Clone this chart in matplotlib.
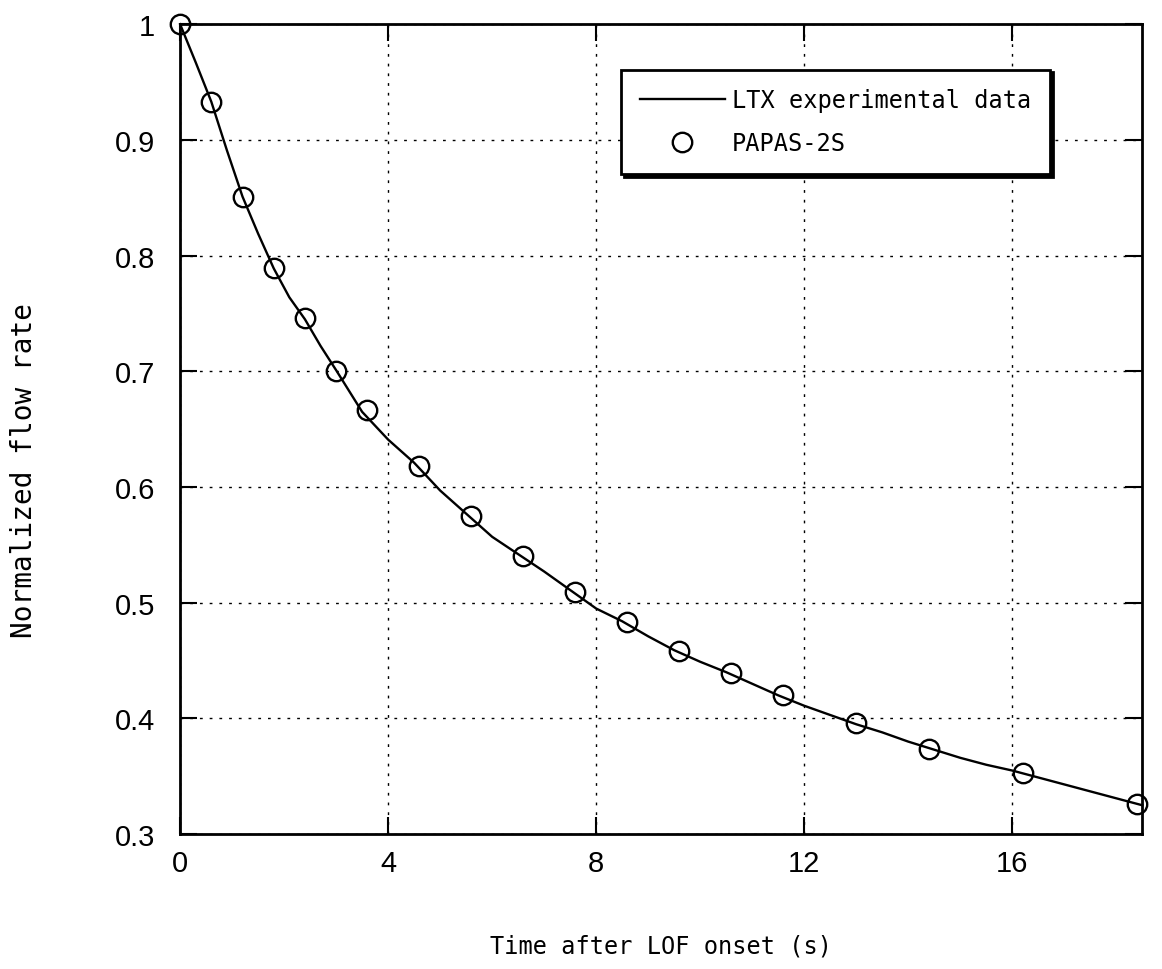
import numpy as np
import matplotlib
matplotlib.use("Agg")
import matplotlib.pyplot as plt

ltx_time = [0.0, 0.3, 0.6, 0.9, 1.2, 1.5, 1.8, 2.1, 2.4, 2.7, 3.0, 3.5, 4.0, 4.5,
            5.0, 5.5, 6.0, 6.5, 7.0, 7.5, 8.0, 8.5, 9.0, 9.5, 10.0, 10.5, 11.0,
            11.5, 12.0, 12.5, 13.0, 13.5, 14.0, 14.5, 15.0, 15.5, 16.0, 16.5,
            17.0, 17.5, 18.0, 18.5]
ltx_flow = [1.000, 0.967, 0.933, 0.891, 0.851, 0.819, 0.789, 0.764, 0.745, 0.722,
            0.701, 0.665, 0.641, 0.621, 0.597, 0.577, 0.557, 0.542, 0.527, 0.511,
            0.495, 0.484, 0.471, 0.459, 0.449, 0.440, 0.430, 0.420, 0.411, 0.403,
            0.395, 0.388, 0.380, 0.373, 0.366, 0.360, 0.355, 0.349, 0.343, 0.337,
            0.331, 0.325]

# PAPAS-2S results
papas_time = [0.0, 0.6, 1.2, 1.8, 2.4, 3.0, 3.6, 4.6, 5.6, 6.6, 7.6, 8.6, 9.6,
              10.6, 11.6, 13.0, 14.4, 16.2, 18.4]
papas_flow = [1.000, 0.933, 0.851, 0.789, 0.746, 0.700, 0.667, 0.618, 0.575,
              0.540, 0.509, 0.483, 0.458, 0.439, 0.420, 0.396, 0.374, 0.353, 0.326]

xticks = [0, 4, 8, 12, 16]
yticks = [0.3, 0.4, 0.5, 0.6, 0.7, 0.8, 0.9, 1.0]
ytick_labels = ["0.3", "0.4", "0.5", "0.6", "0.7", "0.8", "0.9", "1"]

mono = ["DejaVu Sans Mono"]

fig = plt.figure(figsize=(11.62, 9.70), dpi=100)
ax = fig.add_axes([0.155, 0.139, 0.828, 0.835])

ax.plot(ltx_time, ltx_flow, color="black", lw=1.7, label="LTX experimental data",
        clip_on=False, zorder=3)
ax.plot(papas_time, papas_flow, linestyle="none", marker="o", ms=14,
        mfc="none", mec="black", mew=1.7, label="PAPAS-2S", clip_on=False, zorder=4)

ax.set_xlim(0, 18.5)
ax.set_ylim(0.3, 1.0)
ax.set_xticks(xticks)
ax.set_yticks(yticks)
ax.set_yticklabels(ytick_labels)
ax.grid(True, color="black", linestyle=(0, (2, 5)), linewidth=1.0)
ax.tick_params(direction="in", length=12, width=1.5, top=True, right=True,
               labelsize=21)
ax.tick_params(axis="y", pad=18)
ax.tick_params(axis="x", pad=11)
for lab in ax.get_xticklabels() + ax.get_yticklabels():
    lab.set_fontfamily("Liberation Sans")
for sp in ax.spines.values():
    sp.set_linewidth(2)

ax.set_xlabel("Time after LOF onset (s)", fontsize=17, family=mono, labelpad=40)
ax.set_ylabel("Normalized flow rate", fontsize=20, family=mono)
ax.yaxis.set_label_coords(-0.148, 0.45)

leg = ax.legend(loc="upper right", bbox_to_anchor=(0.904, 0.944), borderaxespad=0,
                fancybox=False, edgecolor="black", framealpha=1, handlelength=3.6,
                handletextpad=0.3, borderpad=0.8, labelspacing=0.8,
                prop={"family": mono, "size": 17},
                shadow={"color": "black", "alpha": 1.0})
leg.get_frame().set_linewidth(2)

fig.savefig("out.png", dpi=100)
